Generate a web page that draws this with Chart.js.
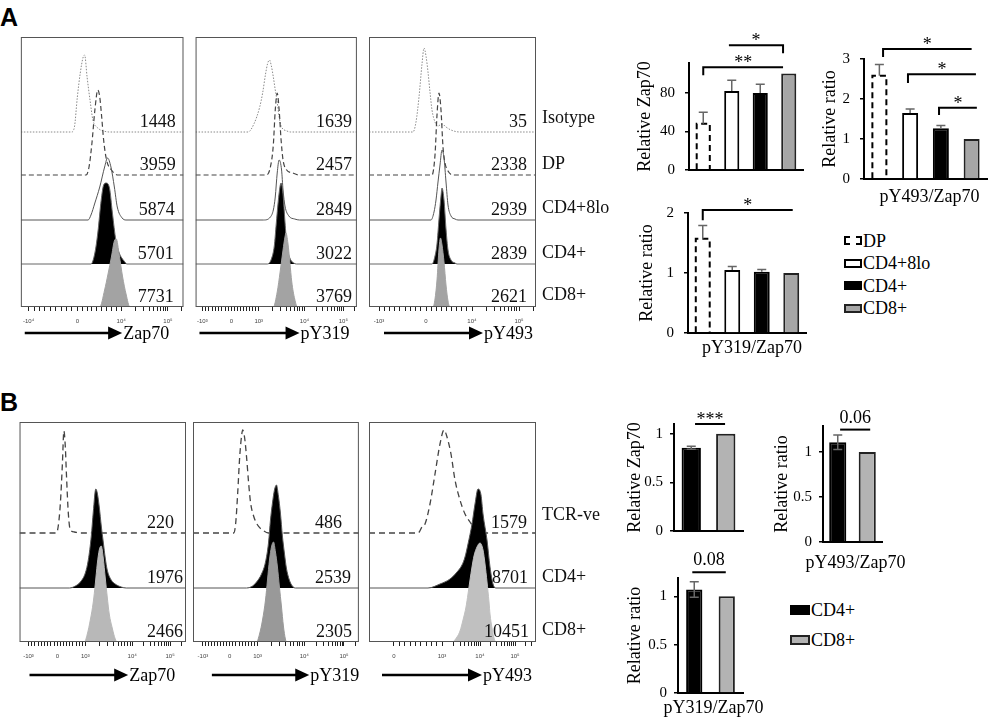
<!DOCTYPE html>
<html>
<head>
<meta charset="utf-8">
<script src="https://cdn.jsdelivr.net/npm/chart.js@4.4.1/dist/chart.umd.min.js"></script>
<style>
  body { margin: 0; width: 988px; height: 720px; position: relative; overflow: hidden; background: #fff; font-family: 'Liberation Serif', serif; }
  canvas { position: absolute; }
  .letter { position: absolute; font: bold 25px 'Liberation Sans', Arial, sans-serif; line-height: 25px; }
  .lg { position: absolute; font-size: 18px; color: #000; }
  .lg div { white-space: nowrap; }
  .sw { display: inline-block; box-sizing: border-box; vertical-align: middle; margin-right: 1px; position: relative; top: -2px; }
</style>
</head>
<body>
<div class="letter" style="left:0px;top:5px">A</div>
<div class="letter" style="left:0px;top:390px">B</div>

<div class="lg" style="left:844px;top:230px;line-height:22.4px">
  <div><span class="sw" style="width:18px;height:9px;border:2.5px dashed #000"></span>DP</div>
  <div><span class="sw" style="width:18px;height:9px;background:#fff;border:2px solid #000"></span>CD4+8lo</div>
  <div><span class="sw" style="width:18px;height:9px;background:#000;border:2px solid #000"></span>CD4+</div>
  <div><span class="sw" style="width:18px;height:9px;background:#a6a6a6;border:2px solid #222"></span>CD8+</div>
</div>
<div class="lg" style="left:790px;top:595px;line-height:30px">
  <div><span class="sw" style="width:20px;height:10px;background:#000;border:2px solid #000"></span>CD4+</div>
  <div><span class="sw" style="width:20px;height:10px;background:#b3b3b3;border:2px solid #222"></span>CD8+</div>
</div>

<script>
// ---------- panel A: flow histograms, points are [channel, height above row baseline]
const popsA = ['Isotype', 'DP', 'CD4+8lo', 'CD4+', 'CD8+'];
const mfiAZap70 = [1448, 3959, 5874, 5701, 7731];
const mfiAY319 = [1639, 2457, 2849, 3022, 3769];
const mfiAY493 = [35, 2338, 2939, 2839, 2621];

const a1Iso = [[0,0],[52,0],[55,5],[58,35],[61,59],[64,75],[65.5,77],[68,55],[71,32],[74,12],[79,4],[85,1],[91,0],[167,0]];
const a1Dp = [[0,0],[67,0],[70,8],[73,32],[76,65],[79,85],[81,78],[83,58],[85,35],[88,15],[93,5],[97,1],[100,0],[167,0]];
const a1Lo = [[0,0],[69,0],[72,5],[76,17],[81,33],[86,53],[89,62],[92.5,53],[96,33],[99,13],[104,2],[108,0],[167,0]];
const a1Cd4 = [[0,0],[72,0],[76,11],[79,31],[82.5,64],[85,79],[87.5,81],[91,76],[94,51],[97.5,24],[101,11],[106,3],[109,0],[167,0]];
const a1Cd8 = [[0,0],[81,0],[86,17],[89.5,33],[93,50],[96,66],[98,68],[101,52],[104.5,30],[108,13],[112,0],[167,0]];

const a2Iso = [[0,0],[54,0],[60,8],[66,25],[69,39],[72,58],[74,68],[76,72],[78,66],[80,55],[82,42],[84,30],[86,15],[88,6],[94,1],[98,0],[166,0]];
const a2Dp = [[0,0],[73,0],[77,8],[80,30],[82,65],[84,82],[86,65],[88,35],[90,15],[93,6],[100,2],[107,0],[166,0]];
const a2Lo = [[0,0],[70,0],[77,3],[80,10],[82,23],[84,47],[86,60],[88.5,50],[90,30],[92,14],[96,4],[102,1],[107,0],[166,0]];
const a2Cd4 = [[0,0],[74,0],[78,5],[81,18],[83,40],[85,62],[87,78],[88,81],[90,70],[92,42],[94,18],[97,6],[101,1],[104,0],[166,0]];
const a2Cd8 = [[0,0],[80,0],[84,15],[87,35],[90,57],[92,70],[93,74],[95,64],[97,45],[99,25],[102,8],[105,0],[166,0]];

const a3Iso = [[0,0],[44,0],[47,10],[50,35],[53,68],[55,84],[57,76],[59,60],[61,40],[63,22],[66,10],[69,6],[73,8],[77,5],[82,2],[91,0],[167,0]];
const a3Dp = [[0,0],[63,0],[66,20],[68,60],[70,82],[72,65],[74,28],[76,12],[79,4],[84,0],[167,0]];
const a3Lo = [[0,0],[62,0],[65,8],[67,20],[69,38],[71,55],[73,70],[75,62],[77,38],[79,15],[82,4],[86,1],[89,0],[167,0]];
const a3Cd4 = [[0,0],[63,0],[66,8],[68,20],[70,45],[72,68],[73,76],[75,64],[77,35],[79,14],[82,4],[86,1],[88,0],[167,0]];
const a3Cd8 = [[0,0],[64,0],[66,8],[68,27],[70,58],[71.5,69],[73,62],[75,45],[77,22],[79,6],[81,0],[167,0]];

// ---------- panel B: flow histograms
const popsB = ['TCR-ve', 'CD4+', 'CD8+'];
const mfiBZap70 = [220, 1976, 2466];
const mfiBY319 = [486, 2539, 2305];
const mfiBY493 = [1579, 8701, 10451];

const b1Neg = [[0,0],[37,0],[39,8],[41,30],[43,69],[44.5,102],[46,85],[47,60],[49,19],[51,3],[55,1],[60,0],[167,0]];
const b1Cd4 = [[0,0],[50,0],[56,2],[61,6],[66,15],[69,28],[72,52],[74,76],[76.5,99],[78,95],[80,81],[82,62],[84,46],[86,30],[88,18],[92,8],[96,4],[102,1],[107,0],[167,0]];
const b1Cd8 = [[0,0],[65,0],[68,8],[71,22],[74,40],[76,58],[78,78],[80,92],[82,96],[84,84],[86,64],[88,45],[90,28],[93,14],[96,3],[98,0],[167,0]];

const b2Neg = [[0,0],[41,0],[43,10],[45,40],[47,76],[49,98],[50,103],[52,95],[54,75],[56,50],[58,30],[61,17],[65,8],[70,3],[76,0],[167,0]];
const b2Cd4 = [[0,0],[54,0],[60,2],[64,6],[69,14],[73,26],[76,45],[78,68],[80,85],[82,98],[84,103],[86,92],[88,75],[90,52],[92,35],[94,20],[97,8],[100,2],[103,0],[167,0]];
const b2Cd8 = [[0,0],[64,0],[67,8],[70,22],[73,42],[75,62],[77,82],[79,95],[81,100],[83,90],[85,75],[87,55],[89,36],[91,16],[93,3],[94,0],[167,0]];

const b3Neg = [[0,0],[49,0],[53,6],[56,9],[61,29],[66,59],[71,89],[75,103],[78,96],[82,79],[86,53],[91,33],[96,19],[101,11],[106,4],[111,1],[114,0],[167,0]];
const b3Cd4 = [[0,0],[59,0],[71,4],[81,9],[88,16],[93,23],[96,31],[99,44],[103,64],[106,84],[109,99],[112,93],[114,74],[118,48],[121,21],[124,4],[127,0],[167,0]];
const b3Cd8 = [[0,0],[83,0],[88,5],[91,11],[94,22],[97,35],[99,48],[101,62],[103,75],[105,86],[108,95],[111,99],[114,92],[116,78],[118,60],[120,40],[121,28],[123,14],[124.5,6],[127,0],[167,0]];

// axis tick marks of the histograms: [channel, label]
const axA1 = [[8,'-10⁴'],[58,'0'],[103,'10⁴'],[151,'10⁵']];
const axA2 = [[7,'-10³'],[37,'0'],[65,'10³'],[112,'10⁴'],[152,'10⁵']];
const axA3 = [[10,'-10³'],[57,'0'],[103,'10⁴'],[150,'10⁵']];
const axB1 = [[9,'-10³'],[38,'0'],[66,'10³'],[113,'10⁴'],[151,'10⁵']];
const axB2 = [[10,'-10³'],[37,'0'],[65,'10³'],[112,'10⁴'],[152,'10⁵']];
const axB3 = [[25,'0'],[73,'10³'],[111,'10⁴'],[146,'10⁵']];

// ---------- bar charts
const catsA = ['DP', 'CD4+8lo', 'CD4+', 'CD8+'];
const zapA = [48, 82, 80, 100];
const zapAErr = [12, 11, 9, 0];
const y493A = [2.58, 1.65, 1.27, 1.0];
const y493AErr = [0.28, 0.1, 0.07, 0];
const y319A = [1.57, 1.05, 1.02, 1.0];
const y319AErr = [0.22, 0.06, 0.04, 0];
const ticksZapA = [0, 40, 80];
const ticks493A = [0, 1, 2, 3];
const ticks319A = [0, 1, 2];
// significance: [from, to, y, left drop to, right drop to, label]
const sigZapA = [[0.9, 2.8, 129.5, null, 121, '*'], [0.0, 2.8, 106.5, 98.2, null, '**']];
const sig493A = [[0.12, 3.0, 3.25, 3.05, null, '*'], [0.93, 3.14, 2.62, 2.4, null, '*'], [1.94, 3.17, 1.78, 1.6, null, '*']];
const sig319A = [[0.0, 3.05, 2.05, 1.88, null, '*']];

const catsB = ['CD4+', 'CD8+'];
const zapB = [0.855, 1.0];
const zapBErr = [0.015, 0];
const y493B = [1.11, 1.0];
const y493BErr = [0.08, 0];
const y319B = [1.07, 1.0];
const y319BErr = [0.08, 0];
const ticksB = [0, 0.5, 1];
const sigZapB = [[0.11, 0.98, 1.1, null, null, '***']];
const sig493B = [[0.08, 1.1, 1.25, null, null, '0.06']];
const sig319B = [[-0.06, 0.97, 1.25, null, null, '0.08']];

Chart.defaults.font.family = "'Liberation Serif', serif";
Chart.defaults.color = '#000';

function makeCanvas(box, pad) {
  const c = document.createElement('canvas');
  const w = box.w + pad.l + pad.r, h = box.h + pad.t + pad.b;
  c.width = w; c.height = h;
  c.style.left = (box.x - pad.l) + 'px';
  c.style.top = (box.y - pad.t) + 'px';
  c.style.width = w + 'px'; c.style.height = h + 'px';
  document.body.appendChild(c);
  return c;
}

function axisTicks(majors, end) {
  const pos = majors.map(m => m[0]);
  const out = pos.slice();
  for (let i = 0; i < pos.length; i++) {
    const a = pos[i];
    const b = i + 1 < pos.length ? pos[i + 1] : a + (a - pos[i - 1]);
    const isLog = majors[i][1].indexOf('10') === 0;
    for (let k = 2; k <= 9; k++) {
      const p = isLog ? a + (b - a) * Math.log10(k) : a + (b - a) * (k - 1) / 9;
      if (p < end) out.push(p);
    }
  }
  return out.sort((p, q) => p - q);
}

const histDeco = (cfg) => ({
  id: 'histDeco',
  afterDraw(chart) {
    const { ctx, chartArea: a, scales: { x, y } } = chart;
    ctx.save();
    ctx.strokeStyle = '#555';
    ctx.lineWidth = 1;
    ctx.strokeRect(a.left + 0.5, a.top + 0.5, a.right - a.left - 1, a.bottom - a.top - 1);
    ctx.font = "18px 'Liberation Serif'";
    ctx.fillStyle = '#111';
    ctx.textBaseline = 'alphabetic';
    ctx.textAlign = 'right';
    cfg.values.forEach((v, i) => {
      ctx.fillText(String(v), x.getPixelForValue(cfg.numRight[i]), y.getPixelForValue(cfg.bases[i]) - 5);
    });
    if (cfg.labels) {
      ctx.textAlign = 'left';
      cfg.labels.forEach((t, i) => ctx.fillText(t, a.right + 6, y.getPixelForValue(cfg.bases[i]) - cfg.lift[i]));
    }
    // arrow under the axis
    const ay = a.bottom + cfg.arrowDy;
    const x0 = x.getPixelForValue(cfg.arrow[0]), x1 = x.getPixelForValue(cfg.arrow[1]);
    ctx.strokeStyle = '#000';
    ctx.fillStyle = '#000';
    ctx.lineWidth = 2.5;
    ctx.beginPath(); ctx.moveTo(x0, ay); ctx.lineTo(x1 - 10, ay); ctx.stroke();
    ctx.beginPath(); ctx.moveTo(x1 - 14, ay - 6.5); ctx.lineTo(x1, ay); ctx.lineTo(x1 - 14, ay + 6.5); ctx.closePath(); ctx.fill();
    ctx.textAlign = 'left';
    ctx.textBaseline = 'middle';
    ctx.fillText(cfg.marker, x1 + 1, ay + 1);
    ctx.restore();
  }
});

function histChart(box, pad, curves, bases, styles, majors, deco) {
  const c = makeCanvas(box, pad);
  const sets = curves.map((pts, i) => {
    const st = styles[i];
    return {
      data: pts.map(p => ({ x: p[0], y: bases[i] + p[1] })),
      borderColor: st.c,
      borderWidth: st.w,
      borderDash: st.dash || [],
      backgroundColor: st.f || 'rgba(0,0,0,0)',
      fill: st.f ? { value: bases[i] } : false,
      pointRadius: 0,
      cubicInterpolationMode: 'monotone'
    };
  }).reverse();
  const tickPos = axisTicks(majors, box.w);
  new Chart(c, {
    type: 'line',
    data: { datasets: sets },
    options: {
      responsive: false, animation: false, events: [],
      layout: { padding: { left: pad.l, right: pad.r, top: pad.t, bottom: 0 } },
      plugins: { legend: { display: false }, tooltip: { enabled: false } },
      scales: {
        x: {
          type: 'linear', min: 0, max: box.w,
          afterBuildTicks: s => { s.ticks = tickPos.map(v => ({ value: v })); },
          afterFit: s => { s.height = pad.b; },
          ticks: {
            autoSkip: false, maxRotation: 0, padding: 7, color: '#444',
            font: { size: 6, family: "'Liberation Sans', sans-serif" },
            callback: v => { const m = majors.find(k => Math.abs(k[0] - v) < 0.01); return m ? m[1] : ''; }
          },
          grid: { drawOnChartArea: false, tickLength: 4, color: '#222', lineWidth: 1 },
          border: { display: false }
        },
        y: { display: false, min: 0, max: box.h }
      }
    },
    plugins: [histDeco(deco)]
  });
}

const barDeco = (cfg) => ({
  id: 'barDeco',
  afterDatasetsDraw(chart) {
    const { ctx, chartArea: area, scales: { x, y } } = chart;
    const meta = chart.getDatasetMeta(0);
    ctx.save();
    (cfg.dashed || []).forEach(i => {
      const b = meta.data[i];
      const l = b.x - b.width / 2 + 1, r = b.x + b.width / 2 - 1;
      ctx.setLineDash([6, 4]);
      ctx.lineWidth = 2;
      ctx.strokeStyle = '#000';
      ctx.beginPath();
      ctx.moveTo(l, b.base); ctx.lineTo(l, b.y); ctx.lineTo(r, b.y); ctx.lineTo(r, b.base);
      ctx.stroke();
    });
    ctx.setLineDash([]);
    ctx.strokeStyle = '#666';
    ctx.lineWidth = 1.5;
    cfg.values.forEach((v, i) => {
      const e = cfg.errs[i];
      if (!e) return;
      const bx = meta.data[i].x;
      const yt = y.getPixelForValue(v + e);
      const yb = y.getPixelForValue(cfg.twoSided ? v - e : v);
      ctx.beginPath();
      ctx.moveTo(bx, yb); ctx.lineTo(bx, yt);
      ctx.moveTo(bx - 4.5, yt); ctx.lineTo(bx + 4.5, yt);
      if (cfg.twoSided) { ctx.moveTo(bx - 4.5, yb); ctx.lineTo(bx + 4.5, yb); }
      ctx.stroke();
    });
    ctx.strokeStyle = '#000';
    ctx.fillStyle = '#000';
    ctx.lineWidth = 2;
    ctx.font = "18px 'Liberation Serif'";
    ctx.textAlign = 'center';
    ctx.textBaseline = 'alphabetic';
    cfg.sig.forEach(s => {
      const xa = x.getPixelForValue(s[0]), xb = x.getPixelForValue(s[1]), yl = y.getPixelForValue(s[2]);
      ctx.beginPath();
      if (s[3] !== null) { ctx.moveTo(xa, y.getPixelForValue(s[3])); ctx.lineTo(xa, yl); } else ctx.moveTo(xa, yl);
      ctx.lineTo(xb, yl);
      if (s[4] !== null) ctx.lineTo(xb, y.getPixelForValue(s[4]));
      ctx.stroke();
      const stars = s[5].indexOf('*') === 0;
      ctx.fillText(s[5], (xa + xb) / 2, stars ? yl + 1 : yl - 7);
    });
    // x axis caption, drawn without the width limit of a scale title
    if (cfg.xTitle) {
      ctx.textBaseline = 'middle';
      ctx.fillText(cfg.xTitle, (area.left + area.right) / 2 + cfg.xTitleDx, area.bottom + cfg.xTitleDy);
    }
    ctx.restore();
  }
});

function barChart(box, pad, cats, vals, errs, o) {
  const c = makeCanvas(box, pad);
  new Chart(c, {
    type: 'bar',
    data: {
      labels: cats,
      datasets: [{
        data: vals, backgroundColor: o.bg, borderColor: o.bd, borderWidth: 2,
        barPercentage: o.bp, categoryPercentage: 1
      }]
    },
    options: {
      responsive: false, animation: false, events: [],
      layout: { padding: { left: 0, right: pad.r, top: pad.t, bottom: 0 } },
      plugins: { legend: { display: false }, tooltip: { enabled: false } },
      scales: {
        x: {
          grid: { display: false }, ticks: { display: false },
          border: { display: true, color: '#000', width: 2 },
          afterFit: s => { s.height = pad.b; }
        },
        y: {
          min: 0, max: o.max,
          afterBuildTicks: s => { s.ticks = o.ticks.map(v => ({ value: v })); },
          afterFit: s => { s.width = pad.l; },
          ticks: { font: { size: 15 }, color: '#000', padding: o.tp, callback: v => String(v) },
          grid: { drawOnChartArea: false, tickLength: 4, color: '#000', lineWidth: 1.5 },
          border: { color: '#000', width: 2 },
          title: { display: true, text: o.yTitle, font: { size: 18, lineHeight: 1 }, padding: 0, color: '#000' }
        }
      }
    },
    plugins: [barDeco({ values: vals, errs: errs, twoSided: o.twoSided, dashed: o.dashed, sig: o.sig,
      xTitle: o.xTitle, xTitleDx: o.xDx || 0, xTitleDy: o.xDy || 0 })]
  });
}

// ---------- styles and layout
const rowBaseA = [175, 132, 87, 43, 0];
const rowBaseB = [109, 54, 0];
const styleA = [
  { c: '#8a8a8a', w: 1, dash: [1.5, 1.5] },
  { c: '#444', w: 1.2, dash: [5, 3] },
  { c: '#555', w: 1 },
  { c: '#666', w: 1, f: '#000' },
  { c: '#a3a3a3', w: 1, f: '#a3a3a3' }
];
const styleB = (g) => [
  { c: '#444', w: 1.3, dash: [6, 4] },
  { c: '#555', w: 1, f: '#000' },
  { c: g, w: 1, f: g }
];
const liftA = [9, 6, 7, 6, 7];
const liftB = [13, 6, 7];
const padH = { l: 3, r: 3, t: 3, b: 46 };
const padH3 = { l: 3, r: 82, t: 3, b: 46 };

histChart({ x: 19, y: 37, w: 167, h: 270 }, padH, [a1Iso, a1Dp, a1Lo, a1Cd4, a1Cd8], rowBaseA, styleA, axA1,
  { values: mfiAZap70, bases: rowBaseA, numRight: [159, 159, 158, 157, 157], arrow: [4, 104], arrowDy: 26, marker: 'Zap70' });
histChart({ x: 193, y: 37, w: 166, h: 270 }, padH, [a2Iso, a2Dp, a2Lo, a2Cd4, a2Cd8], rowBaseA, styleA, axA2,
  { values: mfiAY319, bases: rowBaseA, numRight: [161, 161, 161, 161, 161], arrow: [4, 107], arrowDy: 26, marker: 'pY319' });
histChart({ x: 369, y: 37, w: 167, h: 270 }, padH3, [a3Iso, a3Dp, a3Lo, a3Cd4, a3Cd8], rowBaseA, styleA, axA3,
  { values: mfiAY493, bases: rowBaseA, numRight: [158, 158, 158, 158, 158], arrow: [15, 114], arrowDy: 26, marker: 'pY493', labels: popsA, lift: liftA });

histChart({ x: 19, y: 422, w: 167, h: 220 }, padH, [b1Neg, b1Cd4, b1Cd8], rowBaseB, styleB('#b8b8b8'), axB1,
  { values: mfiBZap70, bases: rowBaseB, numRight: [155, 164, 164], arrow: [10, 109], arrowDy: 33, marker: 'Zap70' });
histChart({ x: 193, y: 422, w: 167, h: 220 }, padH, [b2Neg, b2Cd4, b2Cd8], rowBaseB, styleB('#999999'), axB2,
  { values: mfiBY319, bases: rowBaseB, numRight: [150, 159, 160], arrow: [19, 117], arrowDy: 33, marker: 'pY319' });
histChart({ x: 369, y: 422, w: 167, h: 220 }, padH3, [b3Neg, b3Cd4, b3Cd8], rowBaseB, styleB('#c0c0c0'), axB3,
  { values: mfiBY493, bases: rowBaseB, numRight: [158, 159, 160], arrow: [13, 113], arrowDy: 33, marker: 'pY493', labels: popsB, lift: liftB });

const bgA = ['rgba(0,0,0,0)', '#fff', '#000', '#a6a6a6'];
const bdA = ['rgba(0,0,0,0)', '#000', '#000', '#222'];
const bgB = ['#000', '#b3b3b3'];
const bdB = ['#000', '#222'];

barChart({ x: 689, y: 63, w: 114, h: 120 }, { l: 53, r: 5, t: 45, b: 6 }, catsA, zapA, zapAErr,
  { bg: bgA, bd: bdA, bp: 0.53, max: 111, ticks: ticksZapA, tp: 10, yTitle: 'Relative Zap70', dashed: [0], sig: sigZapA });
barChart({ x: 864, y: 59, w: 123, h: 120 }, { l: 43, r: 1, t: 30, b: 30 }, catsA, y493A, y493AErr,
  { bg: bgA, bd: bdA, bp: 0.52, max: 3, ticks: ticks493A, tp: 10, yTitle: 'Relative ratio', xTitle: 'pY493/Zap70', xDx: 4, xDy: 18, dashed: [0], sig: sig493A });
barChart({ x: 688, y: 213, w: 118, h: 120 }, { l: 50, r: 5, t: 25, b: 28 }, catsA, y319A, y319AErr,
  { bg: bgA, bd: bdA, bp: 0.54, max: 2, ticks: ticks319A, tp: 10, yTitle: 'Relative ratio', xTitle: 'pY319/Zap70', xDx: 5, xDy: 15, dashed: [0], sig: sig319A });

barChart({ x: 674, y: 424, w: 69, h: 117 }, { l: 48, r: 5, t: 30, b: 6 }, catsB, zapB, zapBErr,
  { bg: bgB, bd: bdB, bp: 0.56, max: 1.1, ticks: ticksB, tp: 7, yTitle: 'Relative Zap70', twoSided: true, sig: sigZapB });
barChart({ x: 823, y: 426, w: 59, h: 116 }, { l: 50, r: 30, t: 30, b: 34 }, catsB, y493B, y493BErr,
  { bg: bgB, bd: bdB, bp: 0.58, max: 1.29, ticks: ticksB, tp: 7, yTitle: 'Relative ratio', xTitle: 'pY493/Zap70', xDx: 3, xDy: 21, twoSided: true, sig: sig493B });
barChart({ x: 678, y: 578, w: 65, h: 115 }, { l: 52, r: 30, t: 30, b: 27 }, catsB, y319B, y319BErr,
  { bg: bgB, bd: bdB, bp: 0.5, max: 1.19, ticks: ticksB, tp: 7, yTitle: 'Relative ratio', xTitle: 'pY319/Zap70', xDx: 3, xDy: 15, twoSided: true, sig: sig319B });
</script>
</body>
</html>
